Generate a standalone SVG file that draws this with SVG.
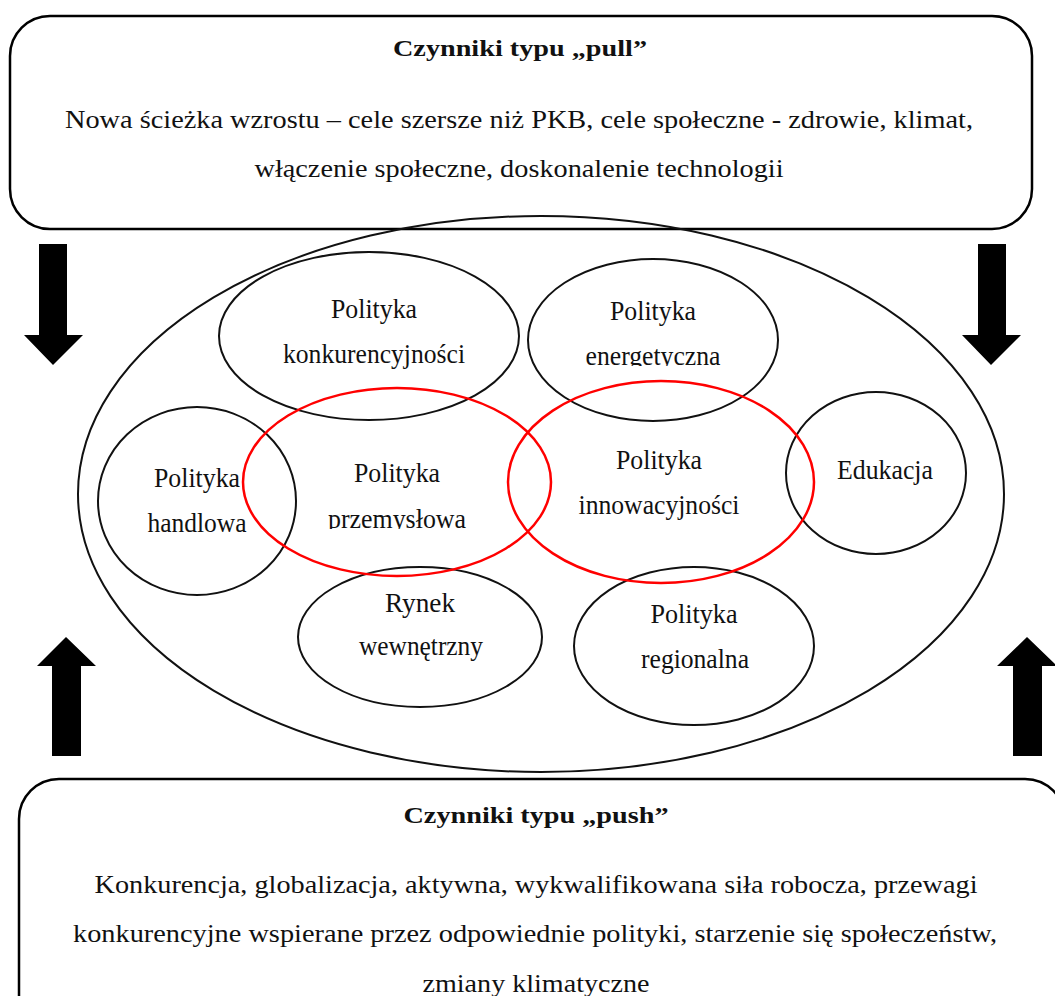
<svg xmlns="http://www.w3.org/2000/svg" width="1055" height="996" viewBox="0 0 1055 996">
  <style>
    .box { fill: none; stroke: #000; stroke-width: 2.5; }
    .ring { fill: none; stroke: #111; stroke-width: 2; }
    .core { fill: none; stroke: #ff0000; stroke-width: 2.5; }
    .arrow { fill: #000; stroke: none; }
    text { fill: #111; text-anchor: middle; }
    .title { font-size: 23px; font-weight: bold; }
    .body { font-size: 26px; }
    .body2 { font-size: 25px; }
    .label { font-size: 27px; }
  </style>
  <defs>
    <clipPath id="cut-energy"><rect x="540" y="300" width="220" height="66"/></clipPath>
    <clipPath id="cut-industry"><rect x="300" y="460" width="200" height="69"/></clipPath>
  </defs>

  <rect width="1055" height="996" fill="#fff"/>

  <g font-family="Liberation Serif, Tinos, Times New Roman, serif">
  <!-- pull factors -->
  <g id="pull">
    <rect class="box" x="10" y="16" width="1022" height="213" rx="40" ry="40"/>
    <text class="title" x="520" y="56" textLength="254" lengthAdjust="spacingAndGlyphs">Czynniki typu „pull”</text>
    <text class="body" x="519" y="128" textLength="908" lengthAdjust="spacingAndGlyphs">Nowa ścieżka wzrostu – cele szersze niż PKB, cele społeczne - zdrowie, klimat,</text>
    <text class="body" x="519" y="177" textLength="529" lengthAdjust="spacingAndGlyphs">włączenie społeczne, doskonalenie technologii</text>
  </g>

  <!-- policy field -->
  <g id="field">
    <ellipse class="ring" cx="541" cy="494" rx="463" ry="278"/>
  </g>

  <g id="konkurencyjnosc">
    <ellipse class="ring" cx="369" cy="336" rx="150" ry="84"/>
    <text class="label" x="374" y="318" textLength="86" lengthAdjust="spacingAndGlyphs">Polityka</text>
    <text class="label" x="374" y="363" textLength="182" lengthAdjust="spacingAndGlyphs">konkurencyjności</text>
  </g>

  <g id="energetyka">
    <ellipse class="ring" cx="653" cy="340" rx="125" ry="81"/>
    <text class="label" x="653" y="320" textLength="86" lengthAdjust="spacingAndGlyphs">Polityka</text>
    <text class="label" x="653" y="365" textLength="135" lengthAdjust="spacingAndGlyphs" clip-path="url(#cut-energy)">energetyczna</text>
  </g>

  <g id="handel">
    <ellipse class="ring" cx="197" cy="501" rx="99" ry="94"/>
    <text class="label" x="197" y="487" textLength="86" lengthAdjust="spacingAndGlyphs">Polityka</text>
    <text class="label" x="197" y="532" textLength="99" lengthAdjust="spacingAndGlyphs">handlowa</text>
  </g>

  <g id="edukacja">
    <ellipse class="ring" cx="876" cy="473" rx="90" ry="81"/>
    <text class="label" x="885" y="479" textLength="96" lengthAdjust="spacingAndGlyphs">Edukacja</text>
  </g>

  <g id="rynek">
    <ellipse class="ring" cx="420" cy="637" rx="122" ry="70"/>
    <text class="label" x="420" y="612" textLength="70" lengthAdjust="spacingAndGlyphs">Rynek</text>
    <text class="label" x="421" y="655" textLength="124" lengthAdjust="spacingAndGlyphs">wewnętrzny</text>
  </g>

  <g id="region">
    <ellipse class="ring" cx="694" cy="646" rx="120" ry="79"/>
    <text class="label" x="694" y="623" textLength="87" lengthAdjust="spacingAndGlyphs">Polityka</text>
    <text class="label" x="695" y="668" textLength="108" lengthAdjust="spacingAndGlyphs">regionalna</text>
  </g>

  <g id="przemysl">
    <ellipse class="core" cx="397" cy="482" rx="154" ry="94"/>
    <text class="label" x="397" y="482" textLength="86" lengthAdjust="spacingAndGlyphs">Polityka</text>
    <text class="label" x="397" y="528" textLength="138" lengthAdjust="spacingAndGlyphs" clip-path="url(#cut-industry)">przemysłowa</text>
  </g>

  <g id="innowacje">
    <ellipse class="core" cx="661" cy="482" rx="153" ry="101"/>
    <text class="label" x="659" y="469" textLength="86" lengthAdjust="spacingAndGlyphs">Polityka</text>
    <text class="label" x="659" y="514" textLength="161" lengthAdjust="spacingAndGlyphs">innowacyjności</text>
  </g>

  <!-- push factors -->
  <g id="push">
    <rect class="box" x="19" y="779" width="1046" height="260" rx="40" ry="40"/>
    <text class="title" x="536" y="823" textLength="265" lengthAdjust="spacingAndGlyphs">Czynniki typu „push”</text>
    <text class="body2" x="536" y="893" textLength="883" lengthAdjust="spacingAndGlyphs">Konkurencja, globalizacja, aktywna, wykwalifikowana siła robocza, przewagi</text>
    <text class="body2" x="535" y="942" textLength="924" lengthAdjust="spacingAndGlyphs">konkurencyjne wspierane przez odpowiednie polityki, starzenie się społeczeństw,</text>
    <text class="body2" x="536" y="992" textLength="227" lengthAdjust="spacingAndGlyphs">zmiany klimatyczne</text>
  </g>
  </g>

  <!-- block arrows -->
  <g id="connectors">
    <polygon class="arrow" points="39,244 67,244 67,335 83,335 53,365 24,335 39,335"/>
    <polygon class="arrow" points="978,244 1006,244 1006,335 1021,335 991,365 962,335 978,335"/>
    <polygon class="arrow" points="52,756 81,756 81,666 96,666 66,637 37,666 52,666"/>
    <polygon class="arrow" points="1013,756 1042,756 1042,666 1057,666 1027,637 997,666 1013,666"/>
  </g>
</svg>
